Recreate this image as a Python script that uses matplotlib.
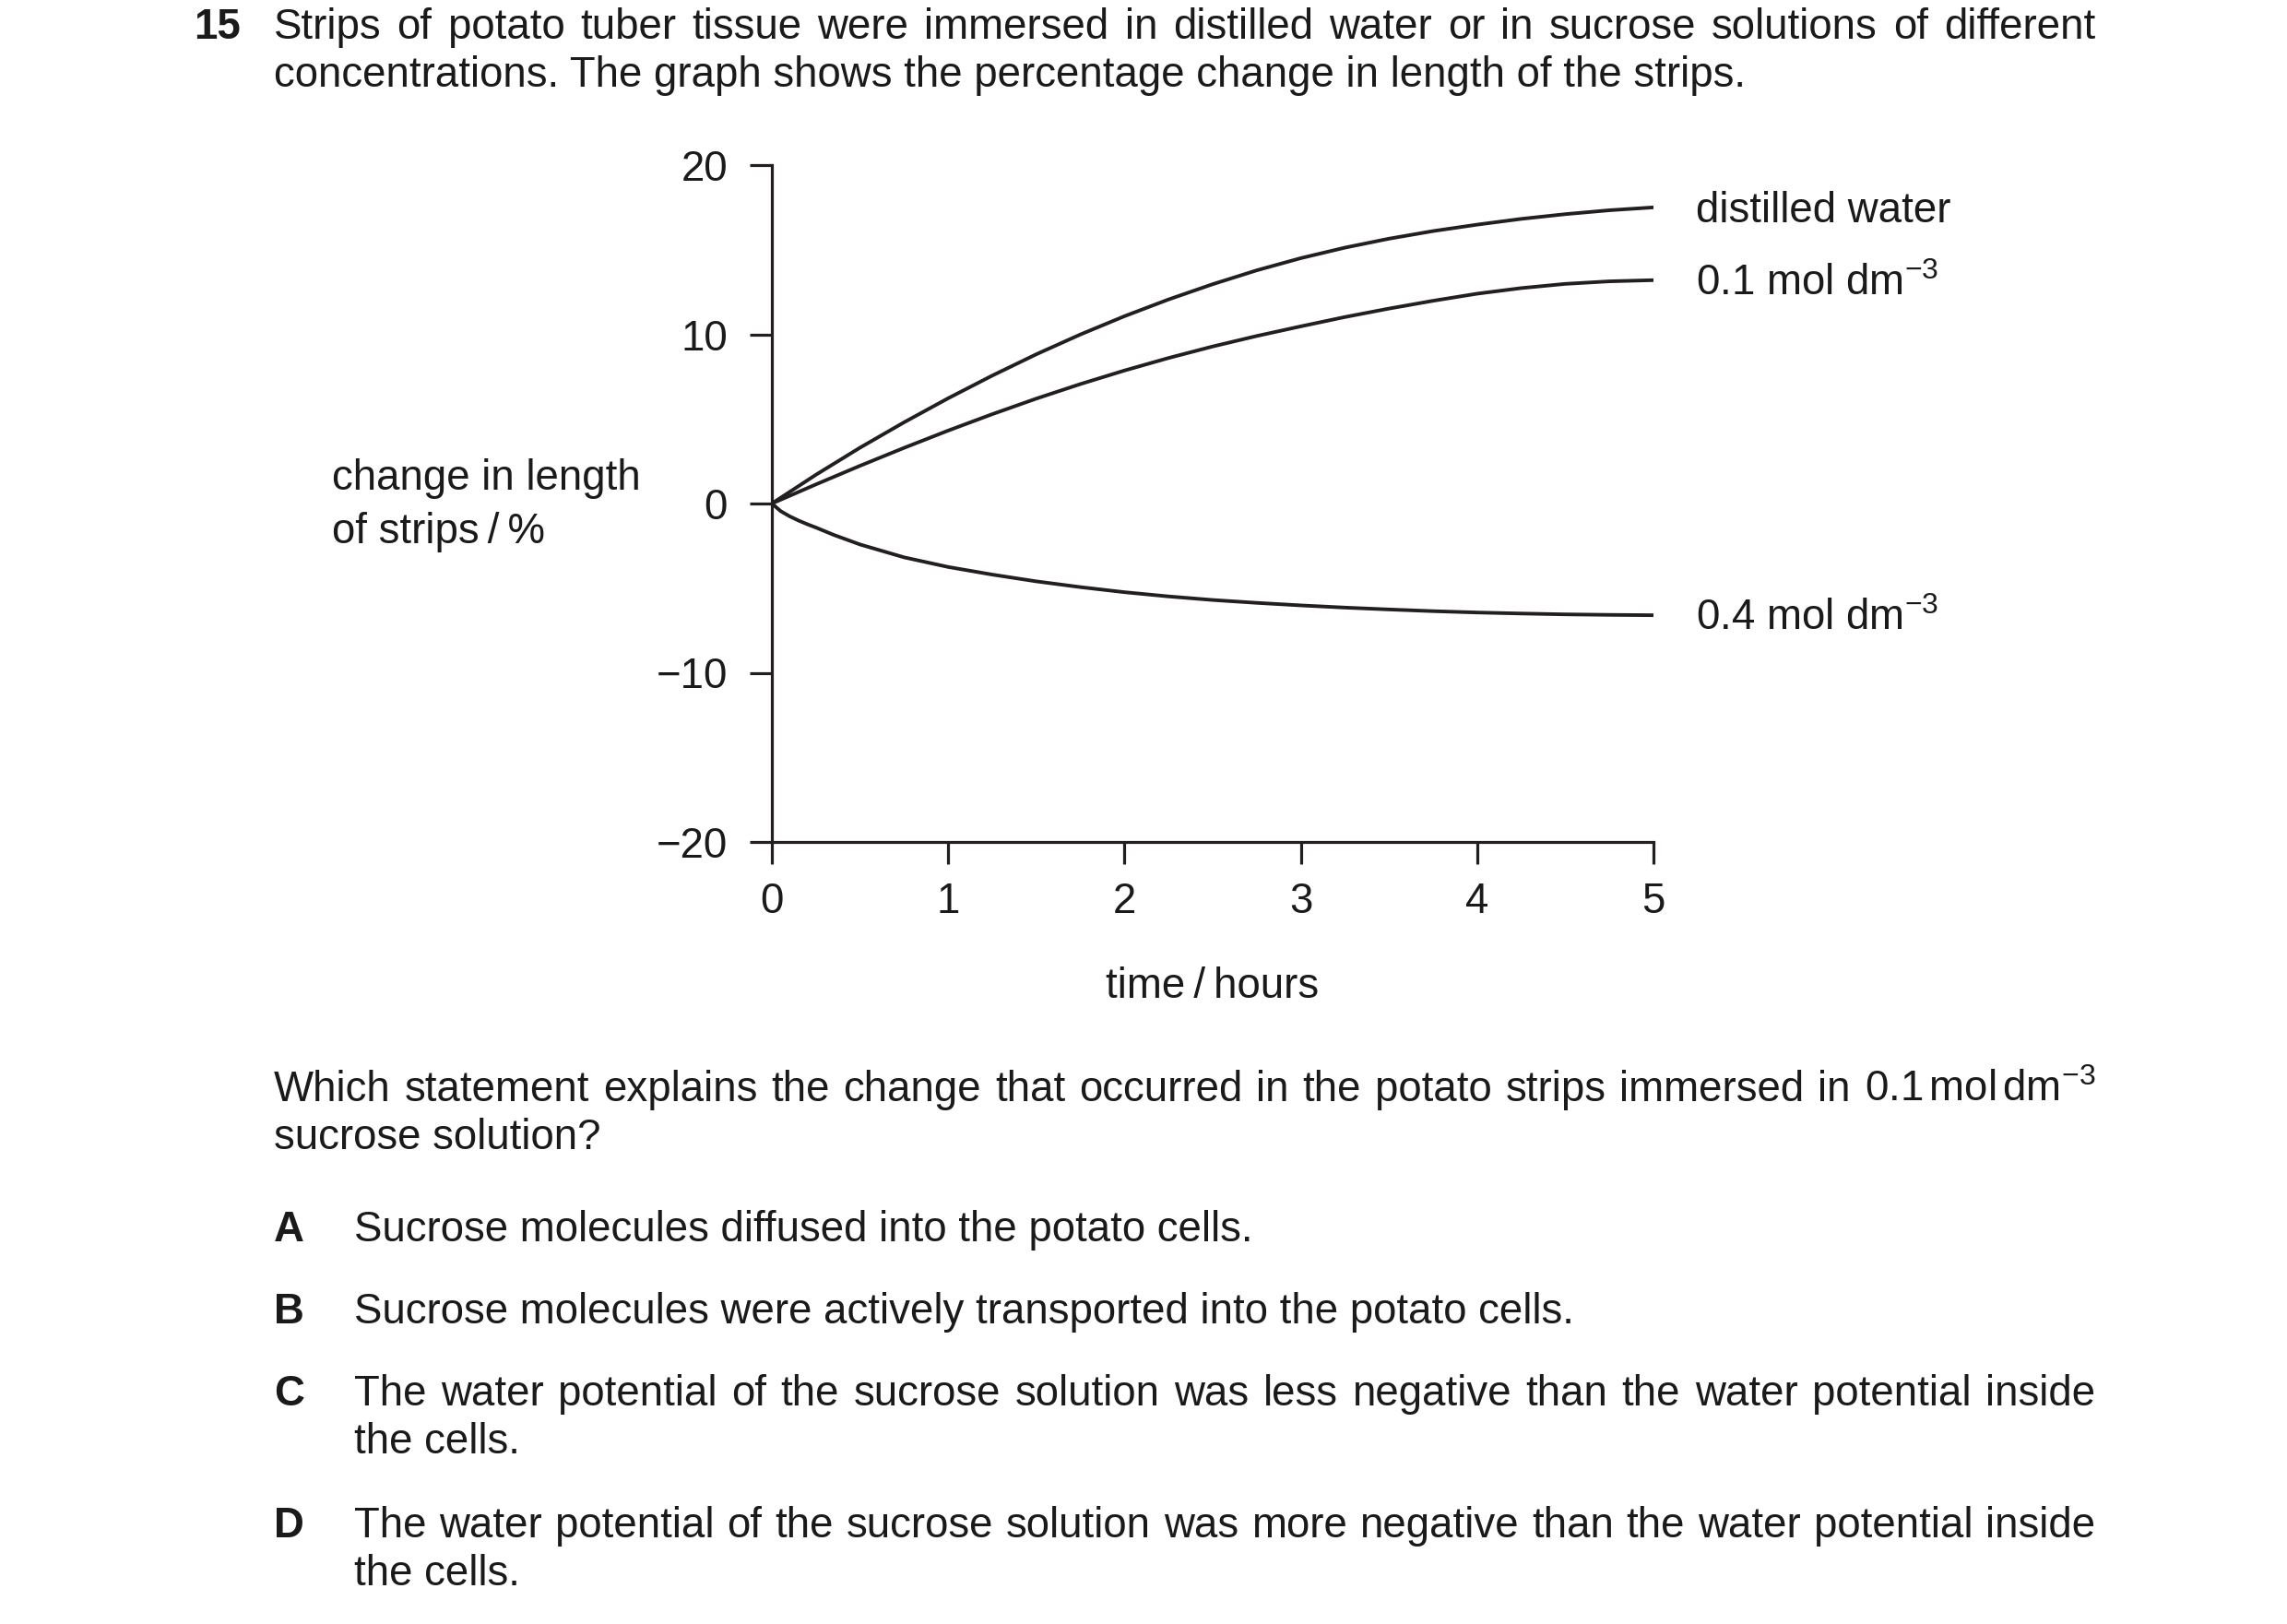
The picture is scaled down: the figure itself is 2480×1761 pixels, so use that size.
import matplotlib
matplotlib.use("Agg")
import matplotlib.pyplot as plt

# ---------------- data ----------------
time_h = [0, 0.25, 0.5, 0.75, 1, 1.25, 1.5, 1.75, 2, 2.25, 2.5, 2.75, 3,
          3.25, 3.5, 3.75, 4, 4.25, 4.5, 4.75, 5]
distilled = [0, 1.7, 3.3, 4.8, 6.22, 7.56, 8.82, 9.99, 11.07, 12.06, 12.96,
             13.78, 14.5, 15.12, 15.65, 16.1, 16.48, 16.82, 17.1, 17.33, 17.5]
sucrose_01 = [0, 1.13, 2.23, 3.29, 4.31, 5.28, 6.2, 7.06, 7.86, 8.6, 9.28,
              9.9, 10.47, 11.02, 11.52, 11.98, 12.4, 12.73, 12.98, 13.13, 13.2]
time_04 = [0, 0.05, 0.1, 0.15, 0.2, 0.25, 0.35, 0.5, 0.75, 1, 1.25, 1.5, 1.75,
           2, 2.25, 2.5, 2.75, 3, 3.25, 3.5, 3.75, 4, 4.25, 4.5, 4.75, 5]
sucrose_04 = [0, -0.45, -0.75, -1.0, -1.22, -1.42, -1.85, -2.42, -3.18, -3.75,
              -4.2, -4.6, -4.94, -5.24, -5.49, -5.7, -5.87, -6.02, -6.15,
              -6.26, -6.36, -6.44, -6.5, -6.55, -6.58, -6.6]
series_labels = ["distilled water", r"0.1 mol dm$^{-3}$", r"0.4 mol dm$^{-3}$"]
x_ticks = [0, 1, 2, 3, 4, 5]
y_ticks = [-20, -10, 0, 10, 20]

# ---------------- style ----------------
W, H, DPI = 2480, 1761, 200
FAM = ["Liberation Sans", "DejaVu Sans"]
plt.rcParams["font.family"] = FAM
plt.rcParams["mathtext.fontset"] = "custom"
plt.rcParams["mathtext.rm"] = "Liberation Sans"
plt.rcParams["mathtext.it"] = "Liberation Sans:italic"
plt.rcParams["mathtext.bf"] = "Liberation Sans:bold"
FS = 16.45
TXT = "#1a1a1a"
INK = "#231f20"

fig = plt.figure(figsize=(W / DPI, H / DPI), dpi=DPI)
fig.patch.set_facecolor("white")


def fx(x):
    return x / W


def fy(y):
    return 1 - y / H


# ---------------- axes ----------------
L, R, T, B = 837, 1793, 179, 913
ax = fig.add_axes([fx(L), fy(B), (R - L) / W, (B - T) / H])
for xs, ys in ((time_h, distilled), (time_h, sucrose_01), (time_04, sucrose_04)):
    ax.plot(xs, ys, color=INK, lw=1.4, solid_capstyle="butt",
            solid_joinstyle="round")
ax.set_xlim(0, 5)
ax.set_ylim(-20, 20)
ax.set_xticks(x_ticks)
ax.set_yticks(y_ticks)
for s in ("top", "right"):
    ax.spines[s].set_visible(False)
for s in ("left", "bottom"):
    ax.spines[s].set_linewidth(1.15)
    ax.spines[s].set_color(INK)
ax.tick_params(axis="both", direction="out", length=8.64, width=1.15,
               color=INK, labelsize=FS, labelcolor=TXT)
ax.tick_params(axis="y", pad=8.6)
ax.tick_params(axis="x", pad=7.0)
ax.patch.set_visible(False)

ends = [distilled[-1], sucrose_01[-1], sucrose_04[-1]]
for lab, v in zip(series_labels, ends):
    ax.annotate(lab, xy=(5, v), xytext=(46 * 72 / DPI, -16 * 72 / DPI),
                textcoords="offset points", ha="left", va="baseline",
                fontsize=FS, color=TXT, annotation_clip=False)

# axis titles
fig.text(fx(360), fy(531), "change in length", fontsize=FS, color=TXT,
         ha="left", va="baseline")
fig.text(fx(360), fy(589), "of strips\u2009/\u2009%", fontsize=FS, color=TXT,
         ha="left", va="baseline")
fig.text(fx((L + R) / 2), fy(1082), "time\u2009/\u2009hours", fontsize=FS,
         color=TXT, ha="center", va="baseline")

renderer = fig.canvas.get_renderer()


def justified(words, x0, x1, y, weight="normal"):
    ts = [fig.text(0, fy(y), w, fontsize=FS, color=TXT, ha="left",
                   va="baseline", fontweight=weight) for w in words]
    widths = [t.get_window_extent(renderer).width for t in ts]
    gap = (x1 - x0 - sum(widths)) / max(len(words) - 1, 1)
    x = x0
    for t, w in zip(ts, widths):
        t.set_x(fx(x))
        x += w + gap


def plain(s, x, y, weight="normal"):
    fig.text(fx(x), fy(y), s, fontsize=FS, color=TXT, ha="left",
             va="baseline", fontweight=weight)


RM = 2272
# header
plain("15", 210, 42, weight="bold")
justified("Strips of potato tuber tissue were immersed in distilled water or "
          "in sucrose solutions of different".split(), 297, RM, 42)
plain("concentrations. The graph shows the percentage change in length of "
      "the strips.", 297, 94)

# question
qwords = ("Which statement explains the change that occurred in the potato "
          "strips immersed in").split() + [r"0.1$\,$mol$\,$dm$^{-3}$"]
justified(qwords, 297, RM, 1194)
plain("sucrose solution?", 297, 1246)

# options
plain("A", 297, 1346, weight="bold")
plain("Sucrose molecules diffused into the potato cells.", 384, 1346)
plain("B", 297, 1435, weight="bold")
plain("Sucrose molecules were actively transported into the potato cells.",
      384, 1435)
plain("C", 297, 1524, weight="bold")
justified("The water potential of the sucrose solution was less negative than "
          "the water potential inside".split(), 384, RM, 1524)
plain("the cells.", 384, 1576)
plain("D", 297, 1667, weight="bold")
justified("The water potential of the sucrose solution was more negative than "
          "the water potential inside".split(), 384, RM, 1667)
plain("the cells.", 384, 1719)

fig.savefig("out.png", dpi=DPI, facecolor="white")
